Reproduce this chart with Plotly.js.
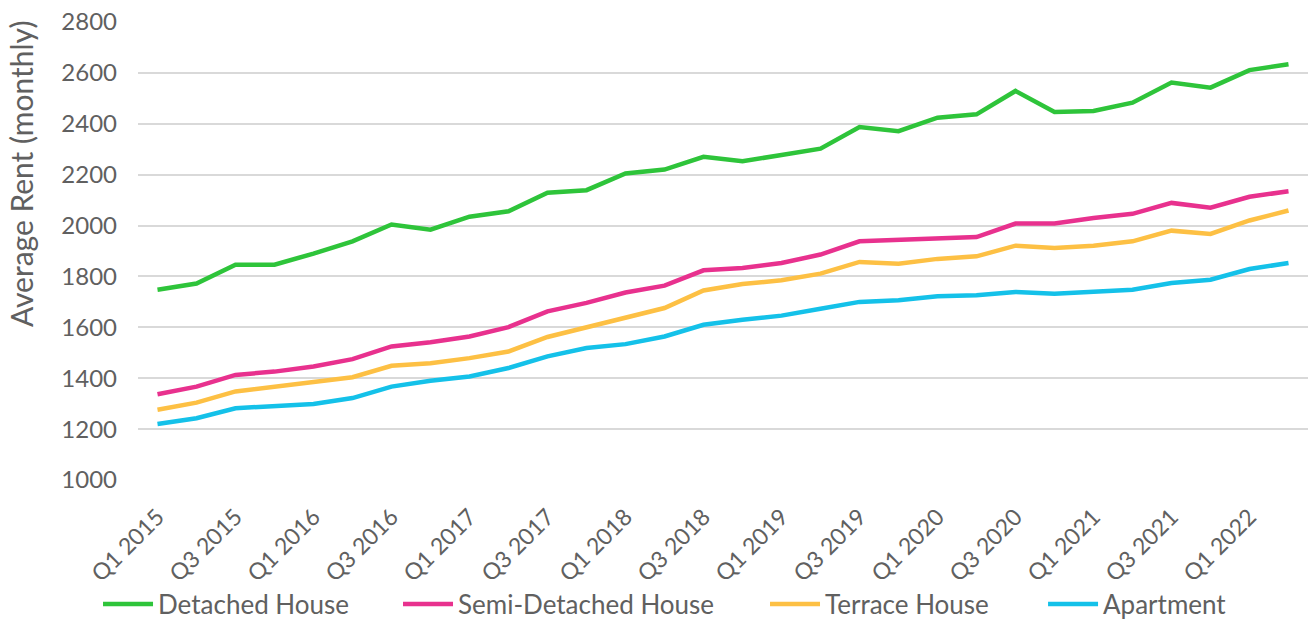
<!DOCTYPE html>
<html>
<head>
<meta charset="utf-8">
<script src="https://cdn.plot.ly/plotly-3.0.1.min.js"></script>
<style>
html,body{margin:0;padding:0;background:#fff;}
#chart{width:1314px;height:621px;}
</style>
</head>
<body>
<div id="chart"></div>
<script>
const quarters = [
  "Q1 2015","Q2 2015","Q3 2015","Q4 2015",
  "Q1 2016","Q2 2016","Q3 2016","Q4 2016",
  "Q1 2017","Q2 2017","Q3 2017","Q4 2017",
  "Q1 2018","Q2 2018","Q3 2018","Q4 2018",
  "Q1 2019","Q2 2019","Q3 2019","Q4 2019",
  "Q1 2020","Q2 2020","Q3 2020","Q4 2020",
  "Q1 2021","Q2 2021","Q3 2021","Q4 2021",
  "Q1 2022","Q2 2022"
];
const tickLabels = ["Q1 2015","Q3 2015","Q1 2016","Q3 2016","Q1 2017","Q3 2017","Q1 2018","Q3 2018",
  "Q1 2019","Q3 2019","Q1 2020","Q3 2020","Q1 2021","Q3 2021","Q1 2022"];

const detached = [1748,1772,1846,1846,1890,1938,2004,1984,2035,2056,2129,2139,2205,2220,2270,2253,
  2277,2302,2387,2371,2424,2437,2529,2446,2450,2483,2562,2542,2611,2634];
const semiDetached = [1337,1367,1413,1426,1446,1475,1525,1541,1564,1601,1663,1696,1737,1764,1824,1833,
  1853,1886,1938,1945,1951,1955,2008,2008,2030,2046,2089,2070,2113,2135];
const terrace = [1276,1304,1348,1367,1383,1404,1449,1459,1479,1505,1562,1601,1636,1676,1745,1770,
  1785,1811,1857,1850,1869,1879,1921,1912,1921,1938,1980,1967,2020,2059];
const apartment = [1220,1243,1282,1289,1299,1322,1367,1390,1407,1440,1486,1519,1534,1564,1610,1630,
  1646,1673,1700,1706,1722,1726,1739,1732,1742,1748,1774,1787,1829,1853];

const seriesNames = ["Detached House","Semi-Detached House","Terrace House","Apartment"];
const seriesData = [detached, semiDetached, terrace, apartment];
const colors = ["#2ec43a","#e8318e","#fdc044","#14c1e9"];
const legendIds = ["legend","legend2","legend3","legend4"];
const legendX = [0.0746, 0.3029, 0.5822, 0.7938];

const FONT = "Lato, 'Open Sans', sans-serif";
const TXT = "#606060";

const traces = seriesData.map((d, i) => ({
  type: "scatter",
  mode: "lines",
  name: seriesNames[i],
  x: quarters,
  y: d,
  line: {color: colors[i], width: 4.5},
  legend: legendIds[i],
  hoverinfo: "x+y+name"
}));

const layout = {
  width: 1314, height: 621,
  margin: {l: 138, r: 6, t: 22, b: 141},
  paper_bgcolor: "#fff", plot_bgcolor: "#fff",
  font: {family: FONT, color: TXT},
  xaxis: {
    type: "category",
    range: [-0.5, 29.5],
    tickvals: tickLabels,
    ticktext: tickLabels,
    tickangle: -45,
    tickfont: {size: 23, color: TXT, family: FONT},
    showgrid: false, zeroline: false, showline: false,
    ticks: "", ticklabelstandoff: 18,
    automargin: false
  },
  yaxis: {
    range: [1000, 2800],
    dtick: 200,
    tickfont: {size: 24, color: TXT, family: FONT},
    gridcolor: "#d9d9d9", gridwidth: 2,
    zeroline: false, showline: false,
    ticks: "", ticklabelstandoff: 20,
    automargin: false
  },
  annotations: [{
    text: "Average Rent (monthly)",
    xref: "paper", yref: "paper",
    x: -0.1, y: 0.668,
    xanchor: "center", yanchor: "middle",
    textangle: -90, showarrow: false,
    font: {size: 30, color: TXT, family: FONT}
  }],
  showlegend: true
};
legendIds.forEach((id, i) => {
  layout[id] = {
    orientation: "h",
    xref: "container", yref: "container",
    x: legendX[i], xanchor: "left",
    y: 0.0274, yanchor: "middle",
    font: {size: 26, color: TXT, family: FONT},
    bgcolor: "rgba(0,0,0,0)",
    itemwidth: 50
  };
});

Plotly.newPlot("chart", traces, layout, {displayModeBar: false, responsive: false});
</script>
</body>
</html>
